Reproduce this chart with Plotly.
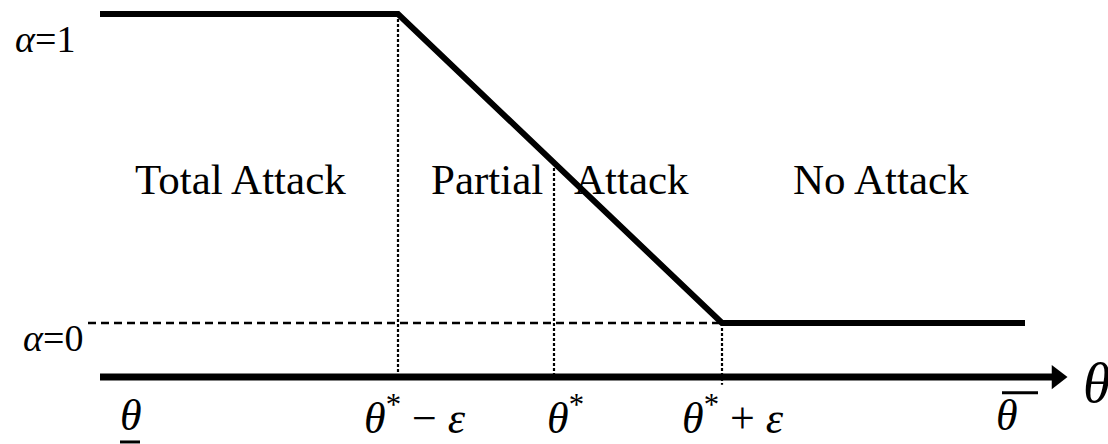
import plotly.graph_objects as go

# ---- data (x in theta units, y in alpha units) ----
curve_theta = [1.00, 3.98, 7.22, 10.25]
curve_alpha = [1, 1, 0, 0]
zero_theta = [0.88, 7.22]
zero_alpha = [0, 0]
axis_theta = [1.00, 10.57]
axis_level = -0.175
thresholds = [3.98, 5.54, 7.22]
threshold_top = [1.0, 0.518, 0.0]
threshold_bottom = [-0.175, -0.175, -0.20]
tick_x = [1.31, 4.15, 5.65, 7.33, 10.07]
tick_text = ["<i>θ</i>", "<i>θ</i><sup>*</sup> − <i>ε</i>", "<i>θ</i><sup>*</sup>",
             "<i>θ</i><sup>*</sup> + <i>ε</i>", "<i>θ</i>"]
region_x = [2.40, 4.87, 6.31, 8.81]
region_text = ["Total Attack", "Partial", "Attack", "No Attack"]
region_alpha = 0.463
alpha_label_x = [0.45, 0.53]
alpha_label_y = [0.92, -0.05]
alpha_label_text = ["<i>α</i>=1", "<i>α</i>=0"]

FONT = "Liberation Serif"

fig = go.Figure()
fig.add_trace(go.Scatter(x=zero_theta, y=zero_alpha, mode="lines",
                         line=dict(color="black", width=2.5, dash="8px,5px"), showlegend=False))
for tx, t0, t1 in zip(thresholds, threshold_top, threshold_bottom):
    fig.add_trace(go.Scatter(x=[tx, tx], y=[t0, t1], mode="lines",
                             line=dict(color="black", width=2.2, dash="3px,2px"), showlegend=False))
fig.add_trace(go.Scatter(x=curve_theta, y=curve_alpha, mode="lines",
                         line=dict(color="black", width=6), showlegend=False))
fig.add_trace(go.Scatter(x=axis_theta, y=[axis_level, axis_level], mode="lines",
                         line=dict(color="black", width=7), showlegend=False))
fig.add_trace(go.Scatter(x=[axis_theta[1]], y=[axis_level], mode="markers",
                         marker=dict(symbol="triangle-right", size=21, color="black"),
                         showlegend=False))

for x, t in zip(region_x, region_text):
    fig.add_annotation(x=x, y=region_alpha, text=t, showarrow=False,
                       font=dict(family=FONT, size=43, color="black"))
for x, y, t in zip(alpha_label_x, alpha_label_y, alpha_label_text):
    fig.add_annotation(x=x, y=y, text=t, showarrow=False,
                       font=dict(family=FONT, size=38, color="black"))
for x, t in zip(tick_x, tick_text):
    fig.add_annotation(x=x, y=-0.30, text=t, showarrow=False,
                       font=dict(family=FONT, size=44, color="black"))
fig.add_annotation(x=10.81, y=-0.195, text="<i>θ</i>", showarrow=False, xanchor="left",
                   font=dict(family=FONT, size=56, color="black"))

# under / over bars of the bound labels
fig.add_shape(type="line", x0=1.20, x1=1.40, y0=-0.385, y1=-0.385,
              line=dict(color="black", width=3))
fig.add_shape(type="line", x0=10.02, x1=10.38, y0=-0.226, y1=-0.226,
              line=dict(color="black", width=3))

fig.update_layout(width=1108, height=444, margin=dict(l=0, r=0, t=0, b=0),
                  paper_bgcolor="white", plot_bgcolor="white",
                  xaxis=dict(range=[0, 11.08], visible=False),
                  yaxis=dict(range=[-0.3916, 1.0453], visible=False))
fig.write_html("out.html", config={"displayModeBar": False},
               post_script="document.body.style.margin='0';document.body.style.overflow='hidden';")
